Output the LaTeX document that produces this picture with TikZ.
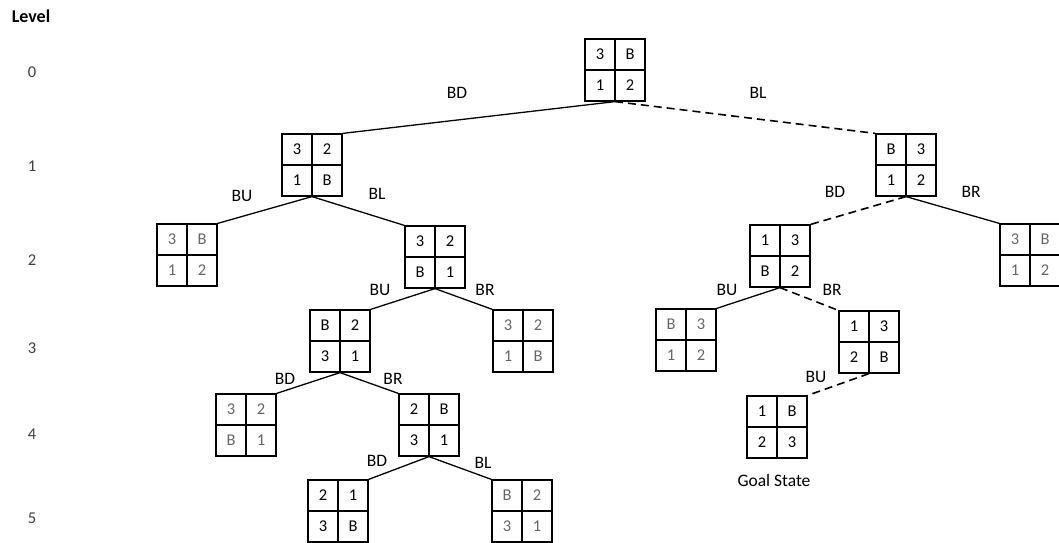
\documentclass[tikz,border=0pt]{standalone}
\usepackage{fontspec}
\setmainfont{Carlito}
\usetikzlibrary{calc}
\begin{document}
\begin{tikzpicture}[x=1pt,y=-1pt,
  pbox/.style={draw,line width=1.2pt,minimum width=60pt,minimum height=62pt,inner sep=0pt},
  cell/.style={font=\fontsize{16.5}{18}\selectfont,inner sep=0pt},
  mv/.style={font=\fontsize{17.5}{18}\selectfont,inner sep=1pt},
  lvl/.style={font=\fontsize{16.5}{18}\selectfont,text=black!75,inner sep=1pt},
  edge/.style={line width=1.3pt},
  dedge/.style={line width=1.6pt,dash pattern=on 8pt off 5pt},
  divh/.style={line width=1.8pt},
  divv/.style={line width=1.2pt}]
\useasboundingbox (0,0) rectangle (1059,542);
\newcommand\pz[7]{%
  \node[pbox] (#1) at (#2) {};
  \draw[divv] (#1.north) -- (#1.south);
  \draw[divh] (#1.west) -- (#1.east);
  \node[cell,text=#7] at ($(#1.center)+(-15,-15.5)$) {#3};
  \node[cell,text=#7] at ($(#1.center)+(15,-15.5)$) {#4};
  \node[cell,text=#7] at ($(#1.center)+(-15,15.5)$) {#5};
  \node[cell,text=#7] at ($(#1.center)+(15,15.5)$) {#6};
}
% level column
\node[font=\bfseries\fontsize{18}{18}\selectfont,inner sep=1pt] (lv) at (31,16) {Level};
\node[lvl] (l0) at (32,72) {0};
\node[lvl] (l1) at (32,166) {1};
\node[lvl] (l2) at (32,260) {2};
\node[lvl] (l3) at (32,348) {3};
\node[lvl] (l4) at (32,434) {4};
\node[lvl] (l5) at (32,518) {5};
% puzzles
\pz{A}{615,70}{3}{B}{1}{2}{black}
\pz{B1}{312,165}{3}{2}{1}{B}{black}
\pz{B2}{906,165}{B}{3}{1}{2}{black}
\pz{C1}{187,255}{3}{B}{1}{2}{black!60}
\pz{C2}{435,257}{3}{2}{B}{1}{black}
\pz{C3}{780,256}{1}{3}{B}{2}{black}
\pz{C4}{1030,255}{3}{B}{1}{2}{black!60}
\pz{D1}{340,341}{B}{2}{3}{1}{black}
\pz{D2}{523,341}{3}{2}{1}{B}{black!60}
\pz{D3}{686,340}{B}{3}{1}{2}{black!60}
\pz{D4}{869,342}{1}{3}{2}{B}{black}
\pz{E1}{246,425}{3}{2}{B}{1}{black!60}
\pz{E2}{429,425}{2}{B}{3}{1}{black}
\pz{E3}{777,427}{1}{B}{2}{3}{black}
\pz{F1}{338,511}{2}{1}{3}{B}{black}
\pz{F2}{522,511}{B}{2}{3}{1}{black!60}
% connectors
\draw[edge] (A.south) -- (B1.north east);
\draw[dedge] (A.south) -- (B2.north west);
\draw[edge] (B1.south) -- (C1.north east);
\draw[edge] (B1.south) -- (C2.north west);
\draw[dedge] (B2.south) -- (C3.north east);
\draw[edge] (B2.south) -- (C4.north west);
\draw[edge] (C2.south) -- (D1.north east);
\draw[edge] (C2.south) -- (D2.north west);
\draw[edge] (C3.south) -- (D3.north east);
\draw[dedge] (C3.south) -- (D4.north west);
\draw[edge] (D1.south) -- (E1.north east);
\draw[edge] (D1.south) -- (E2.north west);
\draw[dedge] (D4.south) -- (E3.north east);
\draw[edge] (E2.south) -- (F1.north east);
\draw[edge] (E2.south) -- (F2.north west);
% move labels
\node[mv] (m1) at (457,93) {BD};
\node[mv] (m2) at (758,93) {BL};
\node[mv] (m3) at (242,196) {BU};
\node[mv] (m4) at (377,194) {BL};
\node[mv] (m5) at (835,192) {BD};
\node[mv] (m6) at (971,192) {BR};
\node[mv] (m7) at (380,290) {BU};
\node[mv] (m8) at (485,290) {BR};
\node[mv] (m9) at (727,290) {BU};
\node[mv] (m10) at (832,290) {BR};
\node[mv] (m11) at (285,379) {BD};
\node[mv] (m12) at (393,379) {BR};
\node[mv] (m13) at (816,377) {BU};
\node[mv] (m14) at (377,461) {BD};
\node[mv] (m15) at (483,463) {BL};
\node[mv] (goal) at (774,480) {Goal State};
\end{tikzpicture}
\end{document}
